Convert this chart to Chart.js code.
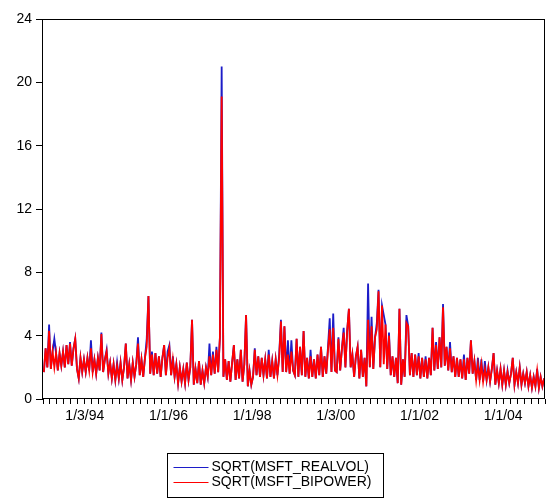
<!DOCTYPE html>
<html>
<head>
<meta charset="utf-8">
<script src="https://cdn.jsdelivr.net/npm/chart.js@4.4.1/dist/chart.umd.min.js"></script>
<style>
  html, body { margin: 0; padding: 0; background: #fff; }
</style>
</head>
<body>
<canvas id="volChart" width="549" height="498"></canvas>
<script>
// x unit = months since 1/1993, one reading every half month
const firstMonth = 0.25;
const monthStep = 0.5;

// SQRT(MSFT_REALVOL), one row per year 1993..2004
const realvol = [
    1.7,3.2,2.0,4.7,1.9,3.0,3.8,2.9,1.8,2.9,2.1,3.0,2.0,3.4,2.2,3.6,2.1,3.2,3.8,1.9,1.3,2.6,1.7,2.5,
    1.7,2.6,1.8,3.7,1.7,2.5,1.6,2.6,1.8,4.2,1.7,2.5,3.1,1.6,2.3,1.3,2.2,1.2,2.3,1.3,2.3,1.2,2.0,3.5,
    1.3,2.2,1.2,2.3,1.4,2.2,3.9,1.5,2.5,1.4,2.6,3.8,6.5,1.6,3.0,1.5,2.9,1.6,2.7,1.4,2.6,3.4,1.5,3.0,
    3.4,1.5,2.7,1.4,2.2,1.0,2.0,1.1,1.9,1.0,2.3,1.2,2.0,5.0,0.9,1.9,1.0,2.4,0.9,1.8,1.0,2.0,1.4,3.5,
    1.5,3.0,1.6,3.3,1.7,3.9,21.0,1.4,2.5,1.2,2.4,1.1,2.3,3.4,1.2,2.5,1.3,3.1,1.1,2.2,5.3,0.8,1.8,0.9,
    1.4,3.2,1.5,2.7,1.4,2.6,1.5,2.5,1.3,3.1,1.4,2.4,1.3,2.5,1.5,2.8,5.0,1.7,4.6,1.7,3.7,1.6,3.7,1.8,
    1.5,3.8,1.4,3.3,1.5,4.3,1.4,2.6,1.3,3.1,1.4,2.5,1.3,2.8,1.5,3.3,1.4,2.7,1.6,3.3,5.1,1.7,5.4,1.8,
    1.7,3.9,1.8,3.2,4.5,2.0,4.3,5.7,2.0,2.8,1.4,2.7,3.3,1.3,3.1,1.4,2.6,0.8,7.3,2.0,5.2,1.9,3.9,4.8,
    6.9,2.0,5.9,5.3,4.7,1.9,4.2,1.5,2.7,1.4,2.6,1.0,5.7,0.9,2.5,1.4,5.3,4.6,1.5,2.9,1.4,2.8,1.5,2.9,
    1.3,2.6,1.4,2.7,1.3,2.6,1.5,4.5,1.8,3.6,1.9,3.9,2.0,6.0,2.1,3.3,1.8,3.6,1.7,2.7,1.4,2.6,1.4,2.5,
    1.3,2.8,1.2,2.6,1.6,3.7,1.6,2.4,1.2,2.6,1.2,2.5,1.1,2.4,1.2,2.0,1.1,1.9,2.9,0.9,1.8,1.0,1.9,0.9,
    1.8,0.9,1.8,1.0,1.6,2.6,0.9,1.7,1.0,2.0,0.9,1.6,1.0,1.7,0.8,1.5,0.7,1.4,0.8,1.9,0.7,1.4,0.8,1.3
];

// SQRT(MSFT_BIPOWER)
const bipower = [
    1.7,3.2,2.0,4.3,1.9,3.0,2.0,2.9,1.8,2.9,2.1,3.0,2.0,3.4,2.2,3.5,2.1,3.2,3.8,1.9,1.3,2.6,1.7,2.5,
    1.7,2.6,1.8,3.2,1.7,2.5,1.6,2.6,1.8,4.1,1.7,2.5,3.0,1.6,2.3,1.3,2.2,1.2,2.1,1.3,2.3,1.2,2.0,3.5,
    1.3,2.2,1.2,2.3,1.4,2.2,3.5,1.5,2.5,1.4,2.6,3.3,6.5,1.6,2.8,1.5,2.9,1.6,2.7,1.4,2.6,3.4,1.5,2.6,
    3.2,1.5,2.5,1.4,2.2,1.0,2.0,1.1,1.9,1.0,2.3,1.2,2.0,5.0,0.9,1.9,1.0,2.4,0.9,1.8,1.0,2.0,1.4,2.7,
    1.5,2.8,1.6,3.1,1.7,3.9,19.1,1.4,2.5,1.2,2.4,1.1,2.3,3.4,1.2,2.5,1.3,3.1,1.1,2.2,5.3,0.8,1.8,0.9,
    1.4,3.1,1.5,2.7,1.4,2.6,1.5,2.5,1.3,2.8,1.4,2.4,1.3,2.5,1.5,2.6,4.9,1.7,4.6,1.7,2.8,1.6,3.0,1.8,
    1.5,3.8,1.4,3.3,1.5,4.3,1.4,2.6,1.3,2.7,1.4,2.5,1.3,2.8,1.5,3.3,1.4,2.7,1.6,3.1,4.4,1.7,4.5,1.8,
    1.7,3.8,1.8,3.2,4.2,2.0,4.3,5.7,2.0,2.8,1.4,2.7,3.3,1.3,3.1,1.4,2.6,0.8,5.0,2.0,4.6,1.9,3.9,4.4,
    6.8,2.0,5.9,2.2,4.7,1.9,4.0,1.5,2.7,1.4,2.6,1.0,5.7,0.9,2.5,1.4,4.8,4.6,1.5,2.9,1.4,2.8,1.5,2.7,
    1.3,2.6,1.4,2.5,1.3,2.6,1.5,4.5,1.8,3.4,1.9,3.9,2.0,5.8,2.1,3.3,1.8,3.2,1.7,2.7,1.4,2.6,1.4,2.5,
    1.3,2.5,1.2,2.6,1.6,3.7,1.6,2.4,1.2,2.2,1.2,2.2,1.1,1.9,1.2,2.0,1.1,1.9,2.9,0.9,1.8,1.0,1.9,0.9,
    1.8,0.9,1.7,1.0,1.6,2.6,0.9,1.7,1.0,2.0,0.9,1.6,1.0,1.7,0.8,1.5,0.7,1.4,0.8,1.8,0.7,1.4,0.8,1.3
];

const seriesNames = ['SQRT(MSFT_REALVOL)', 'SQRT(MSFT_BIPOWER)'];
const xLabelMonths = [12, 36, 60, 84, 108, 132];
const xLabelTexts = ['1/3/94', '1/1/96', '1/1/98', '1/3/00', '1/1/02', '1/1/04'];
const xTickEvery = 2; // small tick every two months

const FONT = { family: '"Liberation Sans", Arial, sans-serif', size: 14 };

const toPoints = (values) => values.map((v, i) => ({ x: firstMonth + i * monthStep, y: v }));

// box round the plot + the boxed legend under it
const frameAndLegend = {
    id: 'frameAndLegend',
    afterDatasetsDraw(chart) {
        const { ctx, chartArea: a } = chart;
        ctx.save();
        ctx.strokeStyle = '#000';
        ctx.lineWidth = 1;
        const l = Math.round(a.left) - 0.5, t = Math.round(a.top) + 0.5;
        const r = Math.round(a.right) - 0.5, b = Math.round(a.bottom) - 0.5;
        ctx.strokeRect(l, t, r - l, b - t);
        ctx.restore();
    },
    afterDraw(chart) {
        const ctx = chart.ctx;
        const w = 216, h = 44;
        const x = Math.round((chart.width - w) / 2) + 0.5;
        const y = 453.5;
        ctx.save();
        ctx.strokeStyle = '#000';
        ctx.lineWidth = 1;
        ctx.strokeRect(x, y, w, h);
        ctx.font = FONT.size + 'px ' + FONT.family;
        ctx.textBaseline = 'middle';
        ctx.fillStyle = '#000';
        const order = [1, 0];
        seriesNames.forEach((name, i) => {
            const ds = chart.data.datasets[order[i]];
            const ly = Math.round(y + 13 + i * 15) + 0.5;
            ctx.strokeStyle = ds.borderColor;
            ctx.lineWidth = 1;
            ctx.beginPath();
            ctx.moveTo(x + 6, ly);
            ctx.lineTo(x + 41, ly);
            ctx.stroke();
            ctx.fillText(name, x + 44, ly);
        });
        ctx.restore();
    }
};

new Chart(document.getElementById('volChart'), {
    type: 'line',
    data: {
        datasets: [
            {
                label: seriesNames[1],
                data: toPoints(bipower),
                borderColor: '#ff0000',
                borderWidth: 1.8,
                pointRadius: 0,
                tension: 0,
                order: 1
            },
            {
                label: seriesNames[0],
                data: toPoints(realvol),
                borderColor: '#1c1cc8',
                borderWidth: 1.8,
                pointRadius: 0,
                tension: 0,
                order: 2
            }
        ]
    },
    options: {
        responsive: false,
        animation: false,
        layout: { padding: { top: 19, right: 3, left: 0, bottom: 0 } },
        plugins: {
            legend: { display: false },
            tooltip: { enabled: false }
        },
        scales: {
            x: {
                type: 'linear',
                min: 0,
                max: 144,
                afterFit: (s) => { s.height = 99; },
                afterBuildTicks: (s) => {
                    const ticks = [];
                    for (let m = s.min; m <= s.max; m += xTickEvery) ticks.push({ value: m });
                    s.ticks = ticks;
                },
                border: { display: false },
                grid: { drawOnChartArea: false, tickLength: 5, color: '#000' },
                ticks: {
                    autoSkip: false,
                    maxRotation: 0,
                    padding: 4,
                    color: '#000',
                    font: FONT,
                    callback: (v) => {
                        const k = xLabelMonths.indexOf(v);
                        return k >= 0 ? xLabelTexts[k] : '';
                    }
                }
            },
            y: {
                min: 0,
                max: 24,
                afterFit: (s) => { s.width = 43; },
                border: { display: false },
                grid: { drawOnChartArea: false, tickLength: 7, color: '#000' },
                ticks: { stepSize: 4, padding: 4, color: '#000', font: FONT }
            }
        }
    },
    plugins: [frameAndLegend]
});
</script>
</body>
</html>
